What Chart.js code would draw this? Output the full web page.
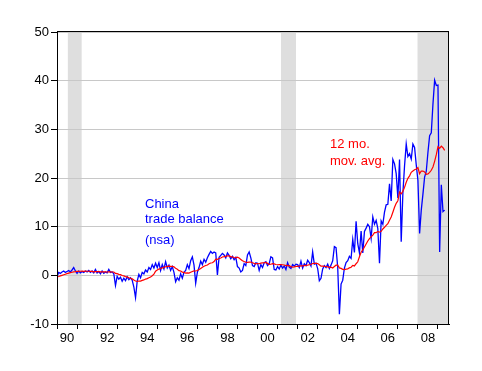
<!DOCTYPE html>
<html>
<head>
<meta charset="utf-8">
<title>China trade balance</title>
<script src="https://cdn.jsdelivr.net/npm/chart.js@4.4.1/dist/chart.umd.min.js"></script>
<style>
  html, body { margin: 0; padding: 0; background: #fff; }
</style>
</head>
<body>
<canvas id="tradeChart" width="482" height="371"></canvas>
<script>
// monthly data, Jan 1990 onwards (bn USD)
const startYear = 1990;

const tradeBalance = [
  -0.3, 0.6, 0.4, 0.7, 0.9, 0.6, 0.8, 1.0, 0.7, 1.1, 1.6, 0.9,      // 1990
  0.4, 0.9, 0.5, 0.8, 0.6, 0.9, 0.7, 1.0, 0.6, 0.9, 0.5, 1.2,       // 1991
  0.5, 0.8, 0.3, 0.9, 0.4, 0.7, 0.5, 1.2, 0.6, 0.7, 0.3, -2.1,      // 1992
  -0.2, -0.8, -0.4, -1.2, -0.6, -1.1, -0.3, -0.9, -0.5, -1.0, -2.4, -4.6, // 1993
  -1.2, 0.2, -0.5, 0.6, 0.3, 1.1, 0.7, 1.6, 1.2, 2.2, 1.5, 2.5,     // 1994
  1.6, 2.6, 1.0, 2.2, 1.3, 2.8, 1.5, 2.1, 1.0, 1.8, 0.6, -1.3,      // 1995
  -0.5, -1.0, 0.3, -0.6, 0.6, 1.0, 2.2, 1.4, 3.0, 3.8, 2.1, -1.6,   // 1996
  0.6, 1.6, 2.9, 2.2, 3.3, 2.7, 3.6, 4.3, 4.9, 4.5, 4.8, 4.6,       // 1997
  0.1, 3.7, 4.1, 4.5, 4.2, 3.6, 4.6, 4.1, 3.4, 3.9, 3.2, 3.7,       // 1998
  1.8, 1.5, 0.7, 1.0, 2.4, 2.0, 4.2, 4.8, 3.6, 2.0, 1.8, 2.6,       // 1999
  2.5, 1.0, 2.2, 1.6, 2.6, 2.8, 2.0, 2.4, 3.8, 3.6, 1.2, 1.1,       // 2000
  1.8, 1.3, 2.1, 1.5, 1.9, 1.2, 2.6, 1.7, 1.4, 2.2, 1.9, 2.3,       // 2001
  2.2, 1.6, 2.9, 1.5, 2.4, 2.0, 3.1, 2.6, 1.9, 4.8, 2.3, 2.5,       // 2002
  1.4, -1.1, -0.6, 1.3, 2.0, 1.6, 2.3, 1.4, 2.1, 3.0, 5.9, 5.7,     // 2003
  1.6, -8.0, -1.8, -1.0, 1.5, 2.6, 3.0, 3.9, 3.5, 7.4, 4.7, 11.1,   // 2004
  6.5, 4.6, 9.1, 4.6, 9.0, 9.7, 10.5, 10.0, 7.6, 12.0, 10.5, 11.3,  // 2005
  9.6, 2.5, 11.2, 10.5, 13.0, 14.5, 14.6, 18.8, 15.3, 23.8, 22.9, 20.9, // 2006
  15.9, 23.8, 6.9, 16.9, 22.5, 27.0, 24.4, 25.0, 23.9, 27.0, 26.3, 22.7, // 2007
  19.5, 8.6, 13.4, 16.7, 20.2, 21.4, 25.3, 28.7, 29.3, 35.2, 40.1, 39.0, // 2008
  39.1, 4.8, 18.6, 13.1, 13.4                                        // 2009
];

const movingAvg = [
  -0.35, -0.24, -0.12, 0.0, 0.12, 0.23, 0.34, 0.45, 0.55, 0.63, 0.71, 0.75,
  0.81, 0.83, 0.84, 0.85, 0.83, 0.85, 0.84, 0.84, 0.83, 0.82, 0.73, 0.75,
  0.76, 0.75, 0.73, 0.74, 0.73, 0.71, 0.69, 0.71, 0.71, 0.69, 0.68, 0.40,
  0.34, 0.21, 0.15, -0.03, -0.11, -0.26, -0.33, -0.50, -0.59, -0.73, -0.96, -1.17,
  -1.25, -1.17, -1.18, -1.03, -0.95, -0.77, -0.68, -0.48, -0.33, -0.07, 0.26, 0.85,
  1.08, 1.28, 1.41, 1.54, 1.63, 1.77, 1.83, 1.88, 1.86, 1.83, 1.75, 1.43,
  1.26, 0.96, 0.90, 0.67, 0.61, 0.46, 0.52, 0.46, 0.63, 0.79, 0.92, 0.89,
  0.98, 1.20, 1.42, 1.65, 1.88, 2.02, 2.13, 2.38, 2.53, 2.59, 2.82, 3.33,
  3.29, 3.47, 3.57, 3.76, 3.83, 3.91, 3.99, 3.98, 3.85, 3.80, 3.67, 3.59,
  3.73, 3.55, 3.27, 2.98, 2.83, 2.69, 2.66, 2.72, 2.73, 2.58, 2.46, 2.37,
  2.43, 2.38, 2.51, 2.56, 2.58, 2.64, 2.46, 2.26, 2.28, 2.41, 2.36, 2.23,
  2.18, 2.20, 2.19, 2.18, 2.13, 1.99, 2.04, 1.98, 1.78, 1.67, 1.73, 1.83,
  1.86, 1.88, 1.95, 1.95, 1.99, 2.06, 2.10, 2.18, 2.22, 2.43, 2.47, 2.48,
  2.42, 2.19, 1.90, 1.88, 1.85, 1.82, 1.75, 1.65, 1.67, 1.52, 1.82, 2.08,
  2.10, 1.53, 1.43, 1.23, 1.19, 1.28, 1.33, 1.54, 1.66, 2.03, 1.93, 2.38,
  2.78, 3.83, 4.74, 5.21, 5.83, 6.43, 7.05, 7.56, 7.90, 8.28, 8.77, 8.78,
  9.04, 8.87, 9.04, 9.53, 9.87, 10.27, 10.61, 11.34, 11.98, 12.97, 14.00, 14.80,
  15.33, 17.10, 16.74, 17.28, 18.07, 19.11, 19.93, 20.44, 21.16, 21.43, 21.71, 21.86,
  22.16, 20.89, 21.43, 21.42, 21.23, 20.76, 20.83, 21.14, 21.59, 22.28, 23.43, 24.78,
  26.42, 26.10, 26.53, 26.23, 25.67
];

// shaded recession periods (decimal years)
const recessions = [[1990.54, 1991.23], [2001.17, 2001.92], [2007.98, 2009.55]];

const yearTicks = [1990, 1991, 1992, 1993, 1994, 1995, 1996, 1997, 1998, 1999,
  2000, 2001, 2002, 2003, 2004, 2005, 2006, 2007, 2008, 2009];
const yearLabels = ['90', '92', '94', '96', '98', '00', '02', '04', '06', '08'];
const yTicks = [-10, 0, 10, 20, 30, 40, 50];

const toPoints = (arr) => arr.map((v, i) => ({ x: startYear + i / 12, y: v }));
const fontFamily = '"Liberation Sans", Arial, sans-serif';

// grey bars behind everything
const shadePlugin = {
  id: 'shade',
  beforeDraw(chart) {
    const { ctx, chartArea, scales } = chart;
    ctx.save();
    ctx.fillStyle = '#dedede';
    recessions.forEach(([a, b]) => {
      const x1 = Math.max(scales.x.getPixelForValue(a), chartArea.left);
      const x2 = Math.min(scales.x.getPixelForValue(b), chartArea.right);
      ctx.fillRect(x1, chartArea.top, x2 - x1, chartArea.bottom - chartArea.top);
    });
    ctx.restore();
  },
};

// box round the plot + text notes
const framePlugin = {
  id: 'frame',
  afterDraw(chart) {
    const { ctx, chartArea } = chart;
    ctx.save();
    ctx.strokeStyle = '#000';
    ctx.lineWidth = 1;
    ctx.strokeRect(Math.round(chartArea.left) + 0.5, Math.round(chartArea.top) - 0.5,
      Math.round(chartArea.right - chartArea.left) - 1, Math.round(chartArea.bottom - chartArea.top) + 1);

    ctx.font = '13px ' + fontFamily;
    ctx.textBaseline = 'alphabetic';
    ctx.fillStyle = '#0000ff';
    ctx.fillText('China', 145, 208);
    ctx.fillText('trade balance', 145, 223);
    ctx.fillText('(nsa)', 145, 244);
    ctx.fillStyle = '#ff0000';
    ctx.fillText('12 mo.', 330, 148);
    ctx.fillText('mov. avg.', 330, 165);
    ctx.restore();
  },
};

const tradeChart = new Chart(document.getElementById('tradeChart'), {
  type: 'line',
  data: {
    datasets: [
      {
        label: '12 mo. mov. avg.',
        data: toPoints(movingAvg),
        borderColor: '#ff0000',
        borderWidth: 1.2,
        pointRadius: 0,
        tension: 0,
      },
      {
        label: 'China trade balance (nsa)',
        data: toPoints(tradeBalance),
        borderColor: '#0000ff',
        borderWidth: 1.3,
        pointRadius: 0,
        tension: 0,
      },
    ],
  },
  options: {
    responsive: false,
    animation: false,
    layout: { padding: { top: 32, right: 33, left: 0, bottom: 0 } },
    plugins: {
      legend: { display: false },
      tooltip: { enabled: false },
    },
    scales: {
      x: {
        type: 'linear',
        min: 1990,
        max: 2009.55,
        afterBuildTicks: (scale) => {
          // year tick marks + labels centred in even years
          const marks = yearTicks.map((v) => ({ value: v }));
          const labelled = yearLabels.map((l, i) => ({ value: 1990 + i * 2 + 0.5 }));
          scale.ticks = marks.concat(labelled);
        },
        afterFit: (scale) => { scale.height = 47; },
        ticks: {
          autoSkip: false,
          maxRotation: 0,
          padding: 2,
          color: '#000',
          font: { family: fontFamily, size: 13 },
          callback: (value) => {
            if (Number.isInteger(value)) return '';
            return yearLabels[Math.round((value - 1990.5) / 2)];
          },
        },
        grid: {
          drawOnChartArea: false,
          tickLength: 5,
          tickColor: (ctx) => (ctx.tick && Number.isInteger(ctx.tick.value) ? '#000' : 'rgba(0,0,0,0)'),
        },
        border: { color: '#000', width: 1 },
      },
      y: {
        min: -10,
        max: 50,
        afterBuildTicks: (scale) => { scale.ticks = yTicks.map((v) => ({ value: v })); },
        afterFit: (scale) => { scale.width = 57; },
        ticks: {
          padding: 2,
          color: '#000',
          font: { family: fontFamily, size: 13 },
        },
        grid: {
          color: '#c8c8c8',
          tickColor: '#000',
          tickLength: 6,
        },
        border: { color: '#000', width: 1 },
      },
    },
  },
  plugins: [shadePlugin, framePlugin],
});
</script>
</body>
</html>
